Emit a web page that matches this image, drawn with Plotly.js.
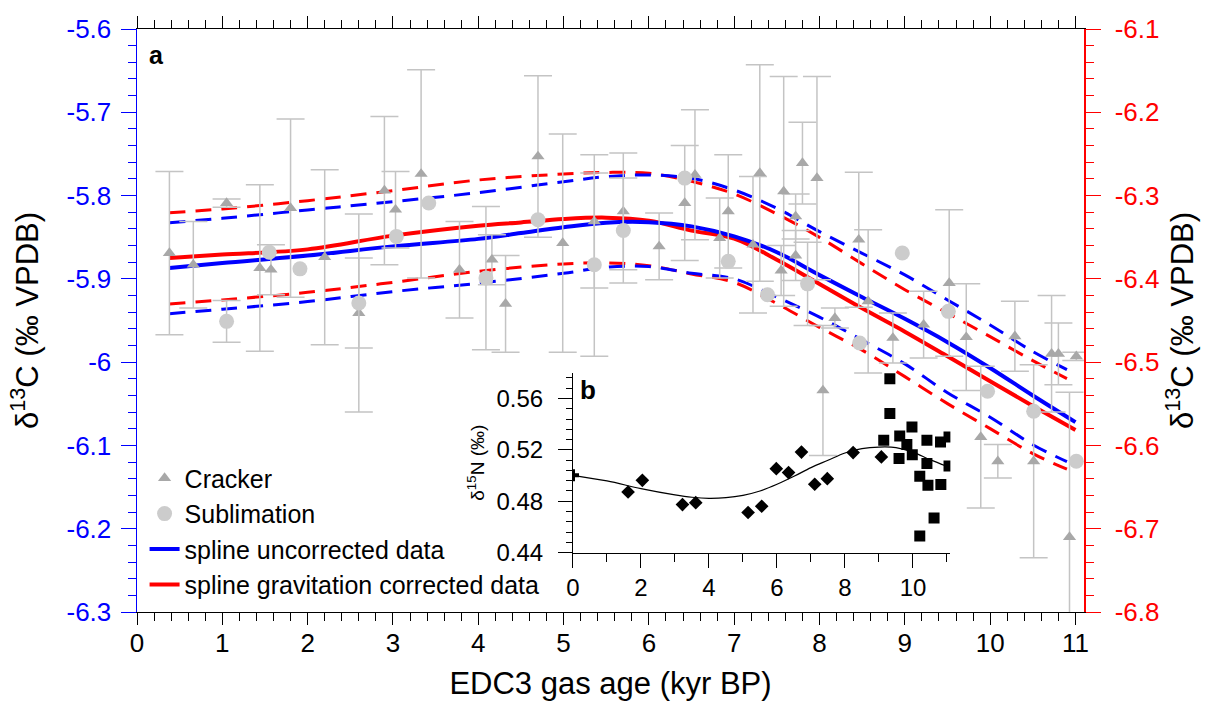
<!DOCTYPE html>
<html>
<head>
<meta charset="utf-8">
<script src="https://cdn.plot.ly/plotly-3.0.1.min.js"></script>
<style>html,body{margin:0;padding:0;background:#fff}#chart{width:1215px;height:707px}</style>
</head>
<body>
<div id="chart"></div>
<script>
// ---- main panel (a) data ----
const crackerX = [0.38,0.66,1.05,1.44,1.57,1.80,2.20,2.60,2.90,3.03,3.33,3.78,4.16,4.32,4.70,4.99,5.36,5.70,6.12,6.42,6.54,6.83,6.93,7.22,7.30,7.55,7.58,7.72,7.72,7.80,7.97,8.04,8.18,8.46,8.57,8.86,9.22,9.52,9.72,9.89,10.09,10.29,10.51,10.72,10.80,10.93,11.01];
const crackerY = [-5.869,-5.883,-5.809,-5.887,-5.889,-5.815,-5.874,-5.941,-5.794,-5.817,-5.774,-5.889,-5.877,-5.930,-5.753,-5.857,-5.831,-5.819,-5.861,-5.809,-5.775,-5.851,-5.819,-5.859,-5.773,-5.890,-5.795,-5.825,-5.872,-5.761,-5.779,-6.034,-5.947,-5.853,-5.927,-5.971,-5.955,-5.905,-5.970,-6.090,-6.119,-5.969,-6.119,-5.990,-5.990,-6.210,-5.993];
const crackerErr = [0.098,0.052,0.005,0.10,0.03,0.107,0.105,0.119,0.089,0.046,0.125,0.058,0.03,0.058,0.097,0.131,0.08,0.07,0.04,0.069,0.078,0.048,0.068,0.082,0.13,0.03,0.138,0.027,0.03,0.049,0.122,0.078,0.012,0.081,0.086,0.03,0.04,0.088,0.064,0.085,0.02,0.042,0.116,0.07,0.037,0.174,0.005];

const sublimX = [1.05,1.55,1.91,2.60,3.04,3.42,4.09,4.70,5.36,5.70,6.42,6.93,7.39,7.86,8.47,8.97,9.51,9.97,10.51,11.01];
const sublimY = [-5.951,-5.868,-5.888,-5.929,-5.849,-5.809,-5.899,-5.829,-5.883,-5.842,-5.779,-5.879,-5.919,-5.906,-5.977,-5.869,-5.939,-6.035,-6.059,-6.119];
const sublimErr = [0.025,NaN,NaN,0.054,NaN,NaN,0.086,NaN,0.11,0.063,NaN,NaN,NaN,0.05,NaN,NaN,NaN,NaN,NaN,NaN];

// splines (blue on left axis, red on right axis)
const splineX = [0.38,1,2,3,4,4.5,5,5.5,6,6.5,7,7.5,8,8.5,9,9.5,10,10.5,11];
const blueSpline = [-5.887,-5.881,-5.872,-5.861,-5.852,-5.845,-5.838,-5.8325,-5.832,-5.837,-5.849,-5.868,-5.8955,-5.922,-5.948,-5.976,-6.007,-6.040,-6.072];
const redSpline = [-6.3749,-6.3709,-6.3646,-6.3481,-6.3361,-6.3322,-6.3281,-6.3265,-6.3301,-6.3421,-6.3517,-6.377,-6.4061,-6.4354,-6.4634,-6.493,-6.523,-6.5526,-6.5814];

const bandX = [0.38,1,2,3,4,5,5.5,6,6.5,7,7.5,8,8.5,9,9.5,10,10.5,10.9];
const blueUpper = [-5.8325,-5.8273,-5.8173,-5.8073,-5.7965,-5.7833,-5.7773,-5.7753,-5.7793,-5.7933,-5.8153,-5.8433,-5.8693,-5.8953,-5.9253,-5.9553,-5.9873,-6.009];
const blueLower = [-5.9418,-5.9365,-5.9273,-5.9153,-5.9053,-5.8933,-5.8861,-5.8853,-5.8933,-5.900,-5.922,-5.946,-5.9736,-6.0021,-6.0367,-6.0661,-6.0991,-6.1195];
const redUpper = [-6.3205,-6.3161,-6.3061,-6.2941,-6.2813,-6.2741,-6.2722,-6.2733,-6.283,-6.2981,-6.3221,-6.3502,-6.382,-6.413,-6.441,-6.4694,-6.4982,-6.5198];
const redLower = [-6.4301,-6.4253,-6.4162,-6.4042,-6.391,-6.3821,-6.3809,-6.3842,-6.3941,-6.4042,-6.4298,-6.4582,-6.4856,-6.5174,-6.5498,-6.5798,-6.6098,-6.6284];

// ---- inset (b) data ----
const crossX = [0];
const crossY = [0.5002];
const diamondX = [1.62,2.04,3.22,3.61,5.15,5.55,5.98,6.34,6.72,7.11,7.48,8.24,9.07];
const diamondY = [0.4872,0.4963,0.4774,0.4789,0.4712,0.4761,0.5054,0.5023,0.5183,0.4932,0.4976,0.5179,0.5145];
const squareX = [9.32,9.32,9.14,9.61,9.97,9.82,9.98,9.59,10.41,10.81,11.06,10.41,11.06,10.20,10.44,10.82,10.62,10.20];
const squareY = [0.5755,0.5483,0.5275,0.5308,0.5378,0.5241,0.5163,0.5132,0.5275,0.5261,0.5300,0.5093,0.5074,0.4994,0.4924,0.4930,0.4670,0.4529];
const fitX = [0,1,2,3,3.5,4,4.5,5,5.5,6,6.5,7,7.5,8,8.5,9,9.5,10,10.5,11];
const fitY = [0.5002,0.4958,0.4898,0.4849,0.4831,0.4823,0.4828,0.4846,0.488,0.4932,0.4994,0.5062,0.5119,0.5176,0.521,0.5222,0.5218,0.5183,0.5124,0.5072];

// ---- tick labels ----
const leftTickVals = [-6.3,-6.2,-6.1,-6,-5.9,-5.8,-5.7,-5.6];
const leftTickText = ['-6.3','-6.2','-6.1','-6','-5.9','-5.8','-5.7','-5.6'];
const rightTickVals = [-6.8,-6.7,-6.6,-6.5,-6.4,-6.3,-6.2,-6.1];
const rightTickText = ['-6.8','-6.7','-6.6','-6.5','-6.4','-6.3','-6.2','-6.1'];

const BLUE = '#0000FF', RED = '#FF0000';
const FONT = 'Liberation Sans, Arial, sans-serif';
const dashPat = '16px,10px';

const traces = [
  // red (right axis) – underlying subplot
  {x: bandX, y: redUpper, xaxis:'x', yaxis:'y2', mode:'lines', line:{color:RED, width:3, dash:dashPat, shape:'spline'}, showlegend:false, hoverinfo:'skip'},
  {x: bandX, y: redLower, xaxis:'x', yaxis:'y2', mode:'lines', line:{color:RED, width:3, dash:dashPat, shape:'spline'}, showlegend:false, hoverinfo:'skip'},
  {x: splineX, y: redSpline, xaxis:'x', yaxis:'y2', mode:'lines', name:'spline gravitation corrected data', legendrank:4, line:{color:RED, width:4, shape:'spline'}},
  // blue (left axis)
  {x: bandX, y: blueUpper, xaxis:'x', yaxis:'y', mode:'lines', line:{color:BLUE, width:3, dash:dashPat, shape:'spline'}, showlegend:false, hoverinfo:'skip'},
  {x: bandX, y: blueLower, xaxis:'x', yaxis:'y', mode:'lines', line:{color:BLUE, width:3, dash:dashPat, shape:'spline'}, showlegend:false, hoverinfo:'skip'},
  {x: splineX, y: blueSpline, xaxis:'x', yaxis:'y', mode:'lines', name:'spline uncorrected data', legendrank:3, line:{color:BLUE, width:4, shape:'spline'}},
  // data points
  {x: crackerX, y: crackerY, xaxis:'x', yaxis:'y', mode:'markers', name:'Cracker', legendrank:1,
   marker:{symbol:'triangle-up', size:11.5, color:'#A8A8A8'},
   error_y:{type:'data', array: crackerErr, visible:true, color:'#C4C4C4', thickness:1.5, width:14}},
  {x: sublimX, y: sublimY, xaxis:'x', yaxis:'y', mode:'markers', name:'Sublimation', legendrank:2,
   marker:{symbol:'circle', size:15, color:'#CCCCCC'},
   error_y:{type:'data', array: sublimErr, visible:true, color:'#C4C4C4', thickness:1.5, width:14}},
  // inset
  {x: fitX, y: fitY, xaxis:'x2', yaxis:'y3', mode:'lines', line:{color:'black', width:1.2, shape:'spline'}, showlegend:false, hoverinfo:'skip'},
  {x: diamondX, y: diamondY, xaxis:'x2', yaxis:'y3', mode:'markers', marker:{symbol:'diamond', size:10.5, color:'black'}, showlegend:false},
  {x: squareX, y: squareY, xaxis:'x2', yaxis:'y3', mode:'markers', marker:{symbol:'square', size:11, color:'black'}, showlegend:false},
  {x: crossX, y: crossY, xaxis:'x2', yaxis:'y3', mode:'markers', marker:{symbol:'cross', size:10, color:'black'}, showlegend:false}
];

const layout = {
  width: 1215, height: 707,
  margin: {l:137, r:131, t:29, b:95, pad:0},
  paper_bgcolor: 'white', plot_bgcolor: 'rgba(0,0,0,0)',
  font: {family: FONT, size: 24, color: 'black'},
  showlegend: true,
  legend: {x: 0.008, xanchor:'left', y: 0.008, yanchor:'bottom', bgcolor:'rgba(0,0,0,0)', borderwidth:0,
           font:{family: FONT, size:25, color:'black'}, traceorder:'normal', itemwidth:30},
  xaxis: {domain:[0,1], anchor:'y2', range:[0,11.1], tickmode:'linear', tick0:0, dtick:1,
          ticks:'outside', ticklen:12, tickwidth:1, tickcolor:'black',
          showline:true, linecolor:'black', linewidth:1, mirror:'ticks',
          showgrid:false, zeroline:false, ticklabelstandoff:-4,
          minor:{dtick:0.2, tick0:0, ticks:'outside', ticklen:8, tickcolor:'black', tickwidth:1, showgrid:false},
          tickfont:{size:26, color:'black'},
          title:{text:'EDC3 gas age (kyr BP)', font:{size:31, color:'black'}, standoff:15}},
  yaxis2: {domain:[0,1], anchor:'x', side:'right', range:[-6.8,-6.1],
           tickmode:'array', tickvals: rightTickVals, ticktext: rightTickText,
           ticks:'outside', ticklen:15, tickwidth:1, tickcolor:RED,
           showline:true, linecolor:RED, linewidth:1.5,
           showgrid:false, zeroline:false, ticklabelstandoff:9,
           minor:{dtick:0.02, tick0:-6.8, ticks:'outside', ticklen:8, tickcolor:RED, tickwidth:1, showgrid:false},
           tickfont:{size:26, color:RED},
           title:{text:'δ<sup>13</sup>C (‰ VPDB)', font:{size:31, color:'black'}, standoff:12}},
  yaxis: {domain:[0,1], anchor:'x', side:'left', overlaying:'y2', range:[-6.3,-5.6],
          tickmode:'array', tickvals: leftTickVals, ticktext: leftTickText,
          ticks:'outside', ticklen:15, tickwidth:1, tickcolor:BLUE,
          showline:true, linecolor:BLUE, linewidth:1.5,
          showgrid:false, zeroline:false, ticklabelstandoff:4,
          minor:{dtick:0.02, tick0:-6.3, ticks:'outside', ticklen:8, tickcolor:BLUE, tickwidth:1, showgrid:false},
          tickfont:{size:26, color:BLUE},
          title:{text:'δ<sup>13</sup>C (‰ VPDB)', font:{size:31, color:'black'}, standoff:18}},
  xaxis2: {domain:[0.4604,0.8589], anchor:'y3', range:[0,11.1], tickmode:'linear', tick0:0, dtick:2,
           ticks:'outside', ticklen:14, tickwidth:1, tickcolor:'black',
           showline:true, linecolor:'black', linewidth:1, mirror:false,
           showgrid:false, zeroline:false,
           minor:{dtick:1, tick0:0, ticks:'outside', ticklen:8, tickcolor:'black', tickwidth:1, showgrid:false},
           tickfont:{size:24, color:'black'}},
  yaxis3: {domain:[0.1019,0.4102], anchor:'x2', range:[0.44,0.58], tickmode:'linear', tick0:0.44, dtick:0.04,
           ticks:'outside', ticklen:14, tickwidth:1, tickcolor:'black',
           showline:true, linecolor:'black', linewidth:1, mirror:false,
           showgrid:false, zeroline:false, ticklabelstandoff:10,
           minor:{dtick:0.008, tick0:0.44, ticks:'outside', ticklen:6, tickcolor:'black', tickwidth:1, showgrid:false},
           tickfont:{size:24, color:'black'},
           title:{text:'δ<sup>15</sup>N (‰)', font:{size:19, color:'black'}, standoff:6}},
  annotations: [
    {text:'<b>a</b>', xref:'paper', yref:'paper', x:0.011, y:0.955, xanchor:'left', yanchor:'middle', showarrow:false, font:{size:25, color:'black', family:FONT}},
    {text:'<b>b</b>', xref:'paper', yref:'paper', x:0.4654, y:0.3805, xanchor:'left', yanchor:'middle', showarrow:false, font:{size:26, color:'black', family:FONT}}
  ]
};

Plotly.newPlot('chart', traces, layout, {displayModeBar:false, responsive:false, staticPlot:true});
</script>
</body>
</html>
